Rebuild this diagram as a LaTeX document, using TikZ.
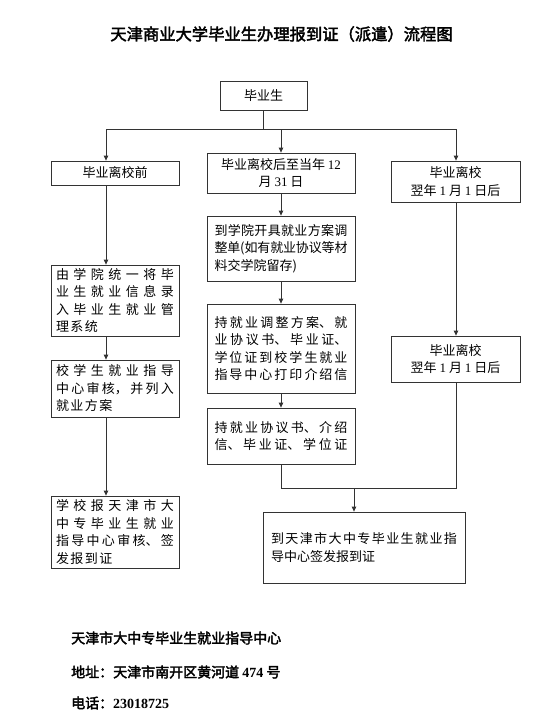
\documentclass[tikz,border=0pt]{standalone}
\usepackage{fontspec}
\setmainfont{Noto Sans CJK SC}[AutoFakeBold=2.5]
\newfontfamily\lat{Liberation Serif}
\usetikzlibrary{arrows.meta}
\XeTeXlinebreaklocale "zh"
\XeTeXlinebreakskip=0pt plus 10pt minus 0.5pt
\newcommand\dg[1]{{\lat #1}}
\begin{document}
\begin{tikzpicture}[x=1pt,y=-1pt,
  box/.style={draw=black!80,line width=0.8pt,inner sep=0pt,
    font=\fontsize{13}{17.5}\selectfont},
  wide/.style={execute at begin node={\XeTeXlinebreakskip=1.5pt plus 10pt minus 0.5pt\relax}},
  tight/.style={execute at begin node={\XeTeXlinebreakskip=0pt plus 10pt minus 0.5pt\relax}},
  lbox/.style={box,wide,minimum width=128pt,text width=118pt,align=justify},
  mbox/.style={box,tight,minimum width=148pt,text width=133pt,align=justify},
  rbox/.style={box,wide,minimum width=129pt,minimum height=41pt,align=center},
  line/.style={draw=black!80,line width=0.8pt},
  arr/.style={line,-{Triangle[length=5pt,width=4.5pt]}},
  foot/.style={anchor=west,inner sep=0pt,font=\fontsize{14}{16}\selectfont\bfseries}
]
\useasboundingbox (0,0) rectangle (557,723);

\node[font=\fontsize{16.3}{18}\selectfont\bfseries] (title) at (281.5,34) {天津商业大学毕业生办理报到证（派遣）流程图};

\node[box,wide,minimum width=87pt,minimum height=29pt] (grad) at (263.5,95.5) {毕业生};

% left column
\node[box,wide,minimum width=128pt,minimum height=24pt] (L1) at (115,173) {毕业离校前};
\node[lbox,minimum height=71pt] (L2) at (115,300.5) {由学院统一将毕\linebreak 业生就业信息录\linebreak 入毕业生就业管\linebreak 理系统};
\node[lbox,minimum height=57pt] (L3) at (115,388.5) {校学生就业指导\linebreak 中心审核，并列入\linebreak 就业方案};
\node[lbox,minimum height=72pt] (L4) at (115,532) {学校报天津市大\linebreak 中专毕业生就业\linebreak 指导中心审核、签\linebreak 发报到证};

% middle column
\node[box,tight,minimum width=148pt,minimum height=40pt,align=center] (M1) at (281,173) {毕业离校后至当年 \dg{12}\\月 \dg{31} 日};
\node[mbox,minimum height=65pt] (M2) at (281,248.5) {到学院开具就业方案调\linebreak 整单(如有就业协议等材\linebreak 料交学院留存)};
\node[mbox,minimum height=89pt] (M3) at (281,348.5) {{\parfillskip=0pt 持就业调整方案、就\linebreak 业协议书、毕业证、\linebreak 学位证到校学生就业\linebreak 指导中心打印介绍信\par}};
\node[mbox,minimum height=56pt] (M4) at (281,436) {{\parfillskip=0pt 持就业协议书、介绍\linebreak 信、毕业证、学位证\par}};

% right column
\node[rbox] (R1) at (455.5,181.5) {毕业离校\\翌年 \dg{1} 月 \dg{1} 日后};
\node[rbox,minimum height=46pt] (R2) at (455.5,359) {毕业离校\\翌年 \dg{1} 月 \dg{1} 日后};

% final
\node[box,tight,minimum width=202pt,minimum height=71pt,text width=186pt,align=justify] (F) at (364,547.5) {到天津市大中专毕业生就业指\linebreak 导中心签发报到证};

% connectors
\coordinate (jl) at (106,129);
\coordinate (jr) at (456,129);
\coordinate (jm) at (281,488);
\coordinate (fa) at (354,488);
\draw[line] (grad.south) -- (grad.south |- jl);
\draw[line] (jl) -- (jr);
\draw[arr] (jl) -- (jl |- L1.north);
\draw[arr] (M1.north |- jl) -- (M1.north);
\draw[arr] (jr) -- (jr |- R1.north);

\draw[arr] (jl |- L1.south) -- (jl |- L2.north);
\draw[arr] (jl |- L2.south) -- (jl |- L3.north);
\draw[arr] (jl |- L3.south) -- (jl |- L4.north);

\draw[arr] (M1.south) -- (M2.north);
\draw[arr] (M2.south) -- (M3.north);
\draw[arr] (M3.south) -- (M4.north);

\draw[arr] (jr |- R1.south) -- (jr |- R2.north);

\draw[line] (M4.south) -- (jm) -- (jr |- jm) -- (jr |- R2.south);
\draw[arr] (fa) -- (fa |- F.north);

% footer
\node[foot] (f1) at (71,638) {天津市大中专毕业生就业指导中心};
\node[foot] (f2) at (71,672) {地址：天津市南开区黄河道 \dg{474} 号};
\node[foot] (f3) at (71,703) {电话：\dg{23018725}};
\end{tikzpicture}
\end{document}
